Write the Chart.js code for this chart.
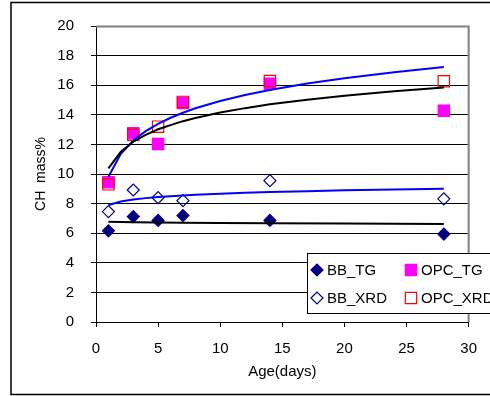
<!DOCTYPE html>
<html><head><meta charset="utf-8">
<script src="https://cdn.jsdelivr.net/npm/chart.js@4"></script>
<style>html,body{margin:0;padding:0;background:#fff;overflow:hidden}#wrap{position:relative;width:490px;height:396px}</style>
</head><body><div id="wrap"><canvas id="c" width="490" height="396"></canvas></div>
<script>
// ---- data ----
const days = [1, 3, 5, 7, 14, 28];
const bbTG   = [6.16, 7.12, 6.86, 7.19, 6.86, 5.94];
const bbXRD  = [7.46, 8.92, 8.40, 8.20, 9.55, 8.32];
const opcTG  = [9.45, 12.75, 12.03, 14.80, 16.10, 14.28];
const opcXRD = [9.30, 12.65, 13.20, 14.87, 16.28, 16.27];

const fitDays   = [1, 2, 3, 4, 5, 6, 7, 8, 10, 12, 14, 17, 20, 24, 28];
const fitOpcTG  = [10.38, 11.50, 12.18, 12.65, 13.02, 13.30, 13.57, 13.78, 14.15, 14.45, 14.71, 15.02, 15.29, 15.59, 15.84];
const fitOpcXRD = [9.82, 11.36, 12.26, 12.90, 13.39, 13.80, 14.14, 14.44, 14.93, 15.34, 15.68, 16.11, 16.47, 16.88, 17.23];
const fitBbXRD  = [7.91, 8.14, 8.27, 8.37, 8.44, 8.50, 8.55, 8.60, 8.67, 8.73, 8.78, 8.84, 8.90, 8.95, 9.00];
const fitBbTGDays = [1, 3, 5, 7, 10, 14, 20, 28];
const fitBbTG     = [6.78, 6.74, 6.72, 6.71, 6.69, 6.67, 6.65, 6.63];

const xTicks = [0, 5, 10, 15, 20, 25, 30];
const yTicks = [0, 2, 4, 6, 8, 10, 12, 14, 16, 18, 20];
const seriesNames = ['BB_TG', 'BB_XRD', 'OPC_TG', 'OPC_XRD'];
const xTitle = 'Age(days)';
const yTitle = 'CH  mass%';

const FONT = 'Liberation Sans, Arial, sans-serif';
const pts = (xs, ys) => xs.map((x, i) => ({x: x, y: ys[i]}));

const markerStyles = {
  'BB_TG':   {pointStyle: 'rectRot', radius: 6, fill: '#000080', stroke: '#000080'},
  'BB_XRD':  {pointStyle: 'rectRot', radius: 6, fill: 'rgba(0,0,0,0)', stroke: '#000080'},
  'OPC_TG':  {pointStyle: 'rect', radius: 8, fill: '#ff00ff', stroke: '#ff00ff'},
  'OPC_XRD': {pointStyle: 'rect', radius: 8, fill: 'rgba(0,0,0,0)', stroke: '#ff0000'}
};
const seriesValues = {'BB_TG': bbTG, 'BB_XRD': bbXRD, 'OPC_TG': opcTG, 'OPC_XRD': opcXRD};
const seriesOrder = {'BB_TG': 4, 'BB_XRD': 3, 'OPC_TG': 2, 'OPC_XRD': 1};

const markerSets = seriesNames.map(n => ({
  label: n,
  data: pts(days, seriesValues[n]),
  showLine: false,
  pointStyle: markerStyles[n].pointStyle,
  pointRadius: markerStyles[n].radius,
  backgroundColor: markerStyles[n].fill,
  borderColor: markerStyles[n].stroke,
  borderWidth: 1.2,
  order: seriesOrder[n]
}));
const lineSet = (xs, ys, color) => ({
  label: '', data: pts(xs, ys), showLine: true, pointRadius: 0,
  borderColor: color, borderWidth: 2, tension: 0, fill: false, order: 0
});
const lineSets = [
  lineSet(fitDays, fitOpcTG, '#000000'),
  lineSet(fitDays, fitOpcXRD, '#0000ff'),
  lineSet(fitDays, fitBbXRD, '#0000ff'),
  lineSet(fitBbTGDays, fitBbTG, '#000000')
];

const framePlugin = {
  id: 'frame',
  beforeDraw(chart) {
    const ctx = chart.ctx;
    ctx.save();
    ctx.fillStyle = '#fff';
    ctx.fillRect(0, 0, chart.width, chart.height);
    ctx.strokeStyle = '#000';
    ctx.lineWidth = 1.5;
    ctx.strokeRect(11, 2.5, 500, 392);
    ctx.restore();
  },
  beforeDatasetsDraw(chart) {
    const ctx = chart.ctx, a = chart.chartArea;
    ctx.save();
    ctx.strokeStyle = '#808080';
    ctx.lineWidth = 2;
    ctx.beginPath();
    ctx.moveTo(a.left, a.top + 0.5);
    ctx.lineTo(a.right, a.top + 0.5);
    ctx.lineTo(a.right, a.bottom);
    ctx.stroke();
    ctx.restore();
  }
};

function drawMarker(ctx, st, x, y) {
  ctx.save();
  ctx.fillStyle = st.fill;
  ctx.strokeStyle = st.stroke;
  ctx.lineWidth = 1.2;
  ctx.beginPath();
  if (st.pointStyle === 'rectRot') {
    const r = st.radius;
    ctx.moveTo(x - r, y); ctx.lineTo(x, y - r); ctx.lineTo(x + r, y); ctx.lineTo(x, y + r); ctx.closePath();
  } else {
    const s = Math.SQRT1_2 * st.radius;
    ctx.rect(x - s, y - s, 2 * s, 2 * s);
  }
  ctx.fill();
  ctx.stroke();
  ctx.restore();
}

const legendPlugin = {
  id: 'boxLegend',
  afterDraw(chart) {
    const ctx = chart.ctx;
    const box = {x: 307.5, y: 253.5, w: 200, h: 60};
    ctx.save();
    ctx.fillStyle = '#fff';
    ctx.fillRect(box.x, box.y, box.w, box.h);
    ctx.strokeStyle = '#000';
    ctx.lineWidth = 1;
    ctx.strokeRect(box.x, box.y, box.w, box.h);
    const cols = [317, 411], rows = [270, 298];
    seriesNames.forEach((n, i) => {
      const col = i < 2 ? 0 : 1, row = i % 2;
      drawMarker(ctx, markerStyles[n], cols[col], rows[row]);
      ctx.fillStyle = '#000';
      ctx.font = '15px ' + FONT;
      ctx.textBaseline = 'middle';
      ctx.textAlign = 'left';
      ctx.fillText(n, cols[col] + 10, rows[row] + 1);
    });
    ctx.restore();
  }
};

new Chart(document.getElementById('c'), {
  type: 'scatter',
  data: {datasets: lineSets.concat(markerSets)},
  options: {
    responsive: false,
    animation: false,
    devicePixelRatio: 1,
    events: [],
    layout: {padding: {top: 25, right: 17, left: 0, bottom: 0}},
    plugins: {legend: {display: false}, tooltip: {enabled: false}},
    scales: {
      x: {
        type: 'linear', min: 0, max: 30,
        afterBuildTicks: s => { s.ticks = xTicks.map(v => ({value: v})); },
        afterFit: s => { s.height = 74; },
        ticks: {color: '#000', font: {family: FONT, size: 15}, padding: 13, maxRotation: 0},
        grid: {drawOnChartArea: false, drawTicks: true, tickLength: 5, color: '#000'},
        border: {color: '#000', width: 1},
        title: {display: true, text: xTitle, color: '#000', font: {family: FONT, size: 15}, padding: {top: 0, bottom: 15}}
      },
      y: {
        type: 'linear', min: 0, max: 20,
        afterBuildTicks: s => { s.ticks = yTicks.map(v => ({value: v})); },
        afterFit: s => { s.width = 96; },
        ticks: {color: '#000', font: {family: FONT, size: 15}, padding: 17},
        grid: {drawOnChartArea: true, drawTicks: true, tickLength: 5, color: '#000', lineWidth: 1},
        border: {color: '#000', width: 1},
        title: {display: true, text: yTitle, color: '#000', font: {family: FONT, size: 14}, padding: {top: 33, bottom: 0}}
      }
    }
  },
  plugins: [framePlugin, legendPlugin]
});
</script>
</body></html>
